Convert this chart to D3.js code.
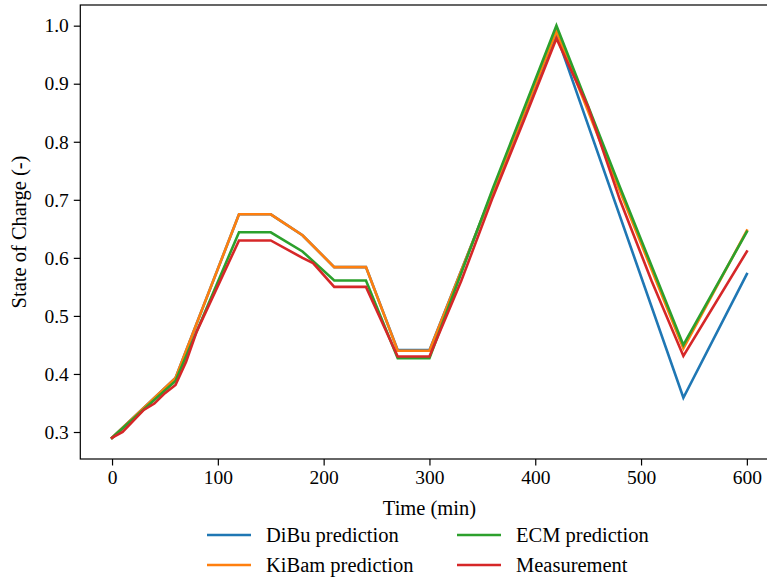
<!DOCTYPE html>
<html>
<head>
<meta charset="utf-8">
<script src="https://cdn.jsdelivr.net/npm/d3@7"></script>
<style>
  html, body { margin: 0; padding: 0; background: #fff; overflow: hidden; }
  svg { display: block; }
  svg text { font-family: "Liberation Serif", "Times New Roman", serif; fill: #000; }
</style>
</head>
<body>
<svg id="chart" width="767" height="579"></svg>
<script>
// Time stamps (min) and state-of-charge values per series
const timeDiBu  = [0, 60, 120, 150, 180, 210, 240, 270, 300, 360, 420, 540, 600];
const socDiBu   = [0.290, 0.393, 0.675, 0.675, 0.639, 0.584, 0.584, 0.441, 0.441, 0.715, 0.985, 0.359, 0.572];

const timeKiBam = [0, 60, 120, 150, 180, 210, 240, 270, 300, 360, 420, 480, 540, 600];
const socKiBam  = [0.290, 0.393, 0.675, 0.675, 0.639, 0.584, 0.584, 0.440, 0.440, 0.715, 0.990, 0.715, 0.444, 0.647];

const timeECM   = [0, 60, 120, 150, 180, 210, 240, 270, 300, 360, 420, 480, 540, 600];
const socECM    = [0.290, 0.388, 0.644, 0.644, 0.611, 0.561, 0.561, 0.427, 0.427, 0.720, 1.000, 0.722, 0.450, 0.645];

const timeMeas  = [0, 10, 30, 40, 50, 60, 70, 80, 120, 150, 180, 190, 210, 240, 270, 300, 330, 360, 390, 420, 450, 480, 510, 540, 600];
const socMeas   = [0.290, 0.300, 0.338, 0.349, 0.367, 0.381, 0.421, 0.473, 0.630, 0.630, 0.600, 0.591, 0.550, 0.550, 0.430, 0.430, 0.560, 0.705, 0.840, 0.978, 0.860, 0.700, 0.560, 0.431, 0.611];

const seriesNames  = ["DiBu prediction", "KiBam prediction", "ECM prediction", "Measurement"];
const seriesColors = ["#1f77b4", "#ff7f0e", "#2ca02c", "#d62728"];
const xTicks = [0, 100, 200, 300, 400, 500, 600];
const yTicks = [0.3, 0.4, 0.5, 0.6, 0.7, 0.8, 0.9, 1.0];

const series = [
  { name: seriesNames[0], color: seriesColors[0], t: timeDiBu,  v: socDiBu },
  { name: seriesNames[1], color: seriesColors[1], t: timeKiBam, v: socKiBam },
  { name: seriesNames[2], color: seriesColors[2], t: timeECM,   v: socECM },
  { name: seriesNames[3], color: seriesColors[3], t: timeMeas,  v: socMeas }
];

const svg = d3.select("#chart");
const plot = { left: 80.3, right: 778.6, top: 5.0, bottom: 459.0 };
const tickFont = 19.5;
const labelFont = 20.5;

const x = d3.scaleLinear().domain([-30, 630]).range([plot.left, plot.right]);
const y = d3.scaleLinear().domain([0.2535, 1.0356]).range([plot.bottom, plot.top]);

// Data lines
const line = d3.line().x(d => x(d[0])).y(d => y(d[1]));
svg.append("g").selectAll("path")
  .data(series)
  .join("path")
  .attr("d", s => line(s.t.map((t, i) => [t, s.v[i]])))
  .attr("fill", "none")
  .attr("stroke", s => s.color)
  .attr("stroke-width", 2.6)
  .attr("stroke-linejoin", "miter")
  .attr("stroke-linecap", "square");

// Axes
const xAxis = d3.axisBottom(x).tickValues(xTicks).tickFormat(d3.format("d")).tickSize(6.5).tickPadding(5);
const yAxis = d3.axisLeft(y).tickValues(yTicks).tickFormat(d3.format(".1f")).tickSize(6.5).tickPadding(5);

const gx = svg.append("g").attr("transform", `translate(0,${plot.bottom})`).call(xAxis);
const gy = svg.append("g").attr("transform", `translate(${plot.left},0)`).call(yAxis);
[gx, gy].forEach(g => {
  g.attr("font-family", null).attr("font-size", null);
  g.select(".domain").remove();
  g.selectAll(".tick line").attr("stroke", "#000").attr("stroke-width", 1.2);
  g.selectAll(".tick text").attr("fill", "#000").style("font-size", tickFont + "px");
});

// Frame
svg.append("rect")
  .attr("x", plot.left).attr("y", plot.top)
  .attr("width", plot.right - plot.left).attr("height", plot.bottom - plot.top)
  .attr("fill", "none").attr("stroke", "#000").attr("stroke-width", 1.2);

// Axis titles
svg.append("text")
  .attr("x", (plot.left + plot.right) / 2).attr("y", 515)
  .attr("text-anchor", "middle").style("font-size", labelFont + "px")
  .text("Time (min)");

svg.append("text")
  .attr("transform", `translate(26,${(plot.top + plot.bottom) / 2}) rotate(-90)`)
  .attr("text-anchor", "middle").style("font-size", labelFont + "px")
  .text("State of Charge (-)");

// Legend: two columns, filled column by column
const legendCols = [207, 457];
const legendRows = [535, 565];
const lg = svg.append("g").selectAll("g")
  .data(series)
  .join("g")
  .attr("transform", (s, i) => `translate(${legendCols[Math.floor(i / 2)]},${legendRows[i % 2]})`);
lg.append("line").attr("x1", 0).attr("x2", 44).attr("y1", 0).attr("y2", 0)
  .attr("stroke", s => s.color).attr("stroke-width", 2.6);
lg.append("text").attr("x", 59).attr("y", 7).style("font-size", labelFont + "px")
  .text(s => s.name);
</script>
</body>
</html>
